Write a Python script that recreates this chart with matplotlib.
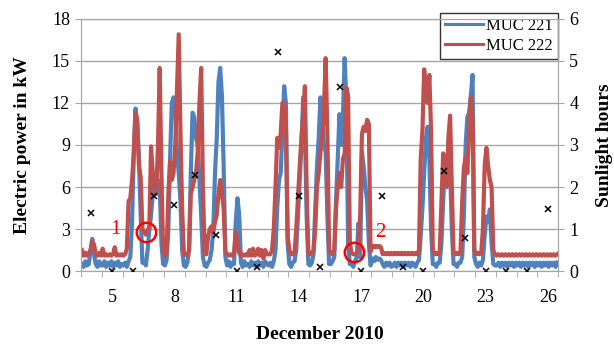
import numpy as np
import matplotlib.pyplot as plt

# December 2010, days 4..26, one value every 2 hours (12 per day), kW
days = list(range(4, 27))

muc221 = [
    [0.5, 0.3, 0.7, 0.4, 0.5, 1.5, 2.3, 1.2, 0.5, 0.3, 0.7, 0.4],    # 4
    [0.4, 0.7, 0.3, 0.6, 0.4, 0.7, 0.3, 0.6, 0.4, 0.7, 0.3, 0.5],    # 5
    [0.4, 0.6, 0.3, 0.7, 1.0, 3.5, 8.4, 11.6, 10.5, 8.0, 4.0, 0.6],  # 6
    [0.6, 0.4, 1.5, 2.9, 4.0, 5.5, 6.8, 6.2, 6.5, 6.3, 2.0, 0.5],    # 7
    [0.4, 0.8, 3.0, 8.0, 12.0, 12.4, 11.5, 8.5, 7.0, 5.0, 1.5, 0.4], # 8
    [0.3, 0.6, 1.5, 7.0, 11.3, 11.0, 9.5, 9.0, 6.5, 4.0, 1.0, 0.4],  # 9
    [0.3, 0.6, 0.8, 1.5, 3.0, 7.0, 9.5, 13.5, 14.5, 12.5, 7.5, 1.0], # 10
    [0.4, 0.7, 0.3, 0.6, 0.5, 3.5, 5.2, 4.0, 0.6, 0.3, 0.7, 0.4],    # 11
    [0.5, 0.3, 0.7, 0.4, 0.6, 0.3, 0.7, 0.4, 0.6, 0.3, 0.7, 0.5],    # 12
    [0.4, 0.6, 0.3, 0.7, 1.5, 4.5, 6.5, 7.0, 10.0, 13.2, 12.0, 2.0], # 13
    [0.5, 0.3, 0.6, 0.7, 1.5, 4.0, 6.5, 9.0, 12.4, 10.0, 4.0, 0.5],  # 14
    [0.4, 0.6, 1.2, 4.5, 7.5, 9.5, 12.4, 11.0, 9.0, 8.5, 4.0, 0.5],  # 15
    [0.5, 0.7, 1.0, 5.0, 8.0, 11.2, 9.0, 11.0, 15.2, 12.0, 2.0, 0.5],# 16
    [0.5, 0.3, 0.7, 1.0, 3.4, 1.0, 8.5, 7.5, 6.0, 5.0, 2.0, 0.4],    # 17
    [0.9, 0.7, 1.0, 0.8, 0.9, 0.8, 0.5, 0.3, 0.6, 0.4, 0.6, 0.3],    # 18
    [0.4, 0.6, 0.3, 0.6, 0.4, 0.6, 0.3, 0.6, 0.4, 0.6, 0.3, 0.6],    # 19
    [0.5, 0.3, 0.6, 0.8, 2.5, 4.5, 7.0, 9.5, 10.3, 8.0, 3.0, 0.5],   # 20
    [0.5, 0.3, 0.6, 0.6, 2.0, 5.0, 7.5, 6.5, 7.0, 7.5, 3.0, 0.5],    # 21
    [0.5, 0.3, 0.6, 0.6, 1.0, 4.0, 9.0, 11.0, 11.3, 12.5, 14.0, 1.0],# 22
    [0.5, 0.3, 0.6, 0.4, 0.8, 2.5, 3.9, 3.5, 4.4, 2.0, 0.5, 0.4],    # 23
    [0.4, 0.6, 0.3, 0.6, 0.4, 0.6, 0.3, 0.6, 0.4, 0.6, 0.3, 0.6],    # 24
    [0.4, 0.6, 0.3, 0.6, 0.4, 0.6, 0.3, 0.6, 0.4, 0.6, 0.3, 0.6],    # 25
    [0.4, 0.6, 0.3, 0.6, 0.4, 0.6, 0.3, 0.6, 0.4, 0.6, 0.3, 0.6],    # 26
]

muc222 = [
    [1.5, 1.1, 1.3, 1.1, 1.3, 1.5, 2.1, 1.9, 1.2, 1.1, 1.3, 1.1],    # 4
    [1.6, 1.1, 1.2, 1.1, 1.2, 1.1, 1.2, 1.7, 1.1, 1.2, 1.1, 1.2],    # 5
    [1.1, 1.2, 1.6, 5.0, 5.2, 6.5, 8.4, 11.3, 10.8, 7.5, 6.7, 3.0],  # 6
    [2.8, 2.6, 2.9, 3.2, 8.9, 7.0, 6.0, 5.5, 9.0, 14.5, 7.0, 1.3],   # 7
    [1.1, 1.3, 5.5, 7.8, 6.5, 7.0, 9.0, 13.0, 16.9, 10.0, 4.4, 1.2], # 8
    [1.2, 1.1, 1.5, 5.5, 6.0, 6.5, 7.0, 8.5, 12.0, 14.5, 6.0, 1.2],  # 9
    [1.2, 2.5, 3.0, 3.2, 2.8, 3.5, 4.0, 5.5, 6.5, 5.5, 4.5, 1.4],    # 10
    [1.2, 1.1, 1.2, 1.1, 1.2, 2.8, 2.0, 1.3, 1.1, 1.2, 1.1, 1.2],    # 11
    [1.1, 1.5, 1.1, 1.6, 1.1, 1.2, 1.6, 1.1, 1.5, 0.9, 1.5, 1.2],    # 12
    [1.2, 1.2, 1.5, 3.0, 6.0, 9.5, 8.8, 9.8, 12.0, 12.0, 10.5, 2.5], # 13
    [1.5, 1.2, 1.2, 1.3, 3.0, 5.3, 7.5, 9.5, 11.0, 13.2, 6.0, 1.2],  # 14
    [1.2, 1.3, 1.5, 3.0, 6.0, 7.0, 8.5, 9.5, 11.5, 15.2, 10.0, 1.5], # 15
    [1.3, 1.2, 1.5, 4.5, 6.0, 7.0, 6.0, 8.0, 8.4, 13.1, 12.5, 2.0],  # 16
    [1.3, 1.2, 1.2, 1.3, 1.4, 4.0, 9.8, 10.3, 10.0, 10.8, 10.5, 1.4],# 17
    [1.8, 1.7, 1.8, 1.7, 1.8, 1.7, 1.2, 1.3, 1.2, 1.3, 1.2, 1.3],    # 18
    [1.2, 1.3, 1.2, 1.3, 1.2, 1.3, 1.2, 1.3, 1.2, 1.3, 1.2, 1.3],    # 19
    [1.2, 1.3, 1.2, 1.5, 8.0, 10.0, 14.4, 13.0, 12.0, 14.0, 10.0, 1.5], # 20
    [1.2, 1.3, 1.2, 1.3, 5.0, 8.4, 7.5, 6.0, 9.5, 11.1, 6.0, 1.3],   # 21
    [1.2, 1.3, 1.2, 1.3, 5.0, 7.4, 8.1, 7.0, 10.0, 12.4, 11.0, 1.5], # 22
    [1.2, 1.3, 1.2, 1.3, 3.0, 7.5, 8.8, 7.5, 6.5, 6.0, 1.5, 1.2],    # 23
    [1.1, 1.2, 1.1, 1.2, 1.1, 1.2, 1.1, 1.2, 1.1, 1.2, 1.1, 1.2],    # 24
    [1.1, 1.2, 1.1, 1.2, 1.1, 1.2, 1.1, 1.2, 1.1, 1.2, 1.1, 1.2],    # 25
    [1.1, 1.2, 1.1, 1.2, 1.1, 1.2, 1.1, 1.2, 1.1, 1.2, 1.1, 1.2],    # 26
]

sun_hours = [1.39, 0, 0, 1.79, 1.58, 2.29, 0.87, 0, 0.1, 5.21, 1.79, 0.09,
             4.39, 0, 1.79, 0.09, 0, 2.38, 0.79, 0, 0, 0, 1.48]

xtick_days = [5, 8, 11, 14, 17, 20, 23, 26]

BLUE = '#4F81BD'
RED = '#C0504D'
GRID = '#A6A6A6'

plt.rcParams['font.family'] = ['Liberation Serif', 'DejaVu Serif']

# time axis: day d is centred on its label, 2-hour slots
slots = len(muc221[0])
t = np.array([d - 0.5 + (k + 0.5) / slots for d in days for k in range(slots)])
p221 = np.concatenate(muc221)
p222 = np.concatenate(muc222)

fig = plt.figure(figsize=(6.14, 3.44), dpi=100)
ax = fig.add_axes([0.132, 0.212, 0.777, 0.733])
ax2 = ax.twinx()

ax.plot(t, p221, color=BLUE, lw=3.0, label='MUC 221', zorder=3)
ax.plot(t, p222, color=RED, lw=3.0, label='MUC 222', zorder=4)
ax2.plot(days, sun_hours, 'x', color='black', ms=5, mew=1.1, zorder=5)

# red circles + labels
ax.plot([6.64], [2.8], 'o', ms=14, mfc='none', mec='red', mew=1.8, zorder=6)
ax.plot([16.64], [1.35], 'o', ms=14, mfc='none', mec='red', mew=1.8, zorder=6)
ax.text(5.15, 3.0, '1', color='red', fontsize=15, ha='center', va='center', zorder=7)
ax.text(17.95, 2.75, '2', color='red', fontsize=15, ha='center', va='center', zorder=7)

ax.set_xlim(3.5, 26.5)
ax.set_ylim(0, 18)
ax2.set_ylim(0, 6)
ax.set_yticks(range(0, 19, 3))
ax2.set_yticks(range(0, 7))
ax.set_xticks(xtick_days)
ax.set_xticks(np.arange(3.5, 27, 1), minor=True)
ax.tick_params(axis='x', which='major', length=0, pad=13, labelsize=13)
ax.tick_params(axis='x', which='minor', length=4, color=GRID, direction='out')
ax.tick_params(axis='y', length=4, color=GRID, labelsize=13, pad=4)
ax2.tick_params(axis='y', length=4, color=GRID, labelsize=13, pad=4)

ax.grid(axis='y', color=GRID, lw=1)
ax.set_axisbelow(True)
for a in (ax, ax2):
    for s in a.spines.values():
        s.set_color(GRID)

ax.set_ylabel('Electric power in kW', fontsize=14, fontweight='bold', labelpad=15)
ax2.set_ylabel('Sunlight hours', fontsize=14, fontweight='bold', rotation=90, labelpad=13)
ax.set_xlabel('December 2010', fontsize=14, fontweight='bold', labelpad=14)

leg = ax.legend(loc='upper right', bbox_to_anchor=(0.909, 0.962),
                bbox_transform=fig.transFigure, fontsize=12, frameon=True,
                fancybox=False, handlelength=2.3, handletextpad=0.2,
                borderpad=0.3, labelspacing=0.25, borderaxespad=0)
leg.get_frame().set_edgecolor('black')
leg.get_frame().set_linewidth(1.0)
leg.set_zorder(10)
for line in leg.get_lines():
    line.set_linewidth(2.2)

fig.savefig('out.png', dpi=100)
